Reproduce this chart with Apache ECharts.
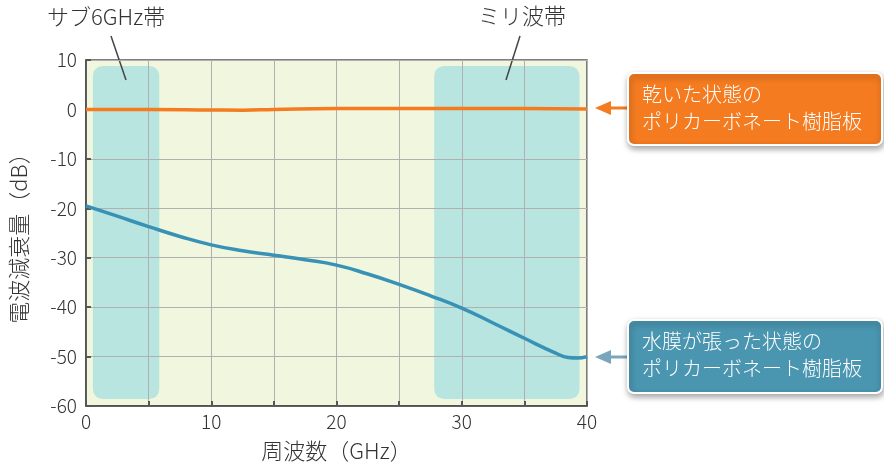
<!DOCTYPE html>
<html><head><meta charset="utf-8">
<script src="https://cdn.jsdelivr.net/npm/echarts@6/dist/echarts.min.js"></script>
<style>html,body{margin:0;padding:0;background:#fff}#c{width:884px;height:468px}</style>
</head><body><div id="c"></div>
<script>
var freqs = [0, 2.5, 5, 7.5, 10, 12.5, 15, 17.5, 20, 22.5, 25, 27.5, 30, 32.5, 35, 37.5, 38.5, 39.2, 40];
var wetValues = [-19.5, -21.6, -23.7, -25.7, -27.4, -28.6, -29.5, -30.4, -31.5, -33.3, -35.4, -37.7, -40.2, -43.2, -46.3, -49.3, -50.2, -50.3, -50.0];
var dryFreqs = [0, 5, 10, 12.5, 15, 20, 25, 30, 35, 40];
var dryValues = [0, 0, -0.1, -0.15, 0, 0.2, 0.2, 0.2, 0.2, 0.1];
var bands = [[0.55, 5.85, 8.8, -58.6], [27.8, 39.4, 8.8, -58.6]];
var bandNames = ['サブ6GHz帯', 'ミリ波帯'];
var xTicks = [0, 10, 20, 30, 40];

var FONT = '"Noto Sans CJK JP", "Noto Sans", sans-serif';
var chart = echarts.init(document.getElementById('c'));
var wet = freqs.map(function (f, i) { return [f, wetValues[i]]; });
var dry = dryFreqs.map(function (f, i) { return [f, dryValues[i]]; });

chart.setOption({
  animation: false,
  textStyle: { fontFamily: FONT },
  grid: { left: 86, right: 297, top: 60, bottom: 62, show: true, backgroundColor: 'transparent', borderColor: '#555', borderWidth: 1.5 },
  xAxis: {
    type: 'value', min: 0, max: 40, interval: 5,
    name: '周波数（GHz）', nameLocation: 'middle', nameGap: 34,
    nameTextStyle: { fontSize: 22, color: '#333', fontFamily: FONT, fontWeight: 300 },
    axisLine: { onZero: false, lineStyle: { color: '#444', width: 1.5 } },
    axisTick: { inside: true, length: 5, lineStyle: { color: '#555', width: 2 } },
    axisLabel: { fontSize: 19, color: '#333', margin: 6, fontFamily: FONT, fontWeight: 300,
      formatter: function (v) { return xTicks.indexOf(v) >= 0 ? String(v) : ''; } },
    splitLine: { show: true, lineStyle: { color: '#b0b0b0', width: 1 } }
  },
  yAxis: {
    type: 'value', min: -60, max: 10, interval: 10,
    name: '電波減衰量（dB）', nameLocation: 'middle', nameGap: 56, nameRotate: 90,
    nameTextStyle: { fontSize: 22, color: '#333', fontFamily: FONT, fontWeight: 300 },
    axisLine: { show: true, onZero: false, lineStyle: { color: '#444', width: 1.5 } },
    axisTick: { show: true, inside: true, length: 5, lineStyle: { color: '#555', width: 2 } },
    axisLabel: { fontSize: 19, color: '#333', margin: 9, fontFamily: FONT, fontWeight: 300 },
    splitLine: { show: true, lineStyle: { color: '#b0b0b0', width: 1 } }
  },
  series: [
    {
      type: 'custom', data: [[0, 40, 10, -60]], z: -2, silent: true, clip: false,
      renderItem: function (params, api) {
        var p0 = api.coord([api.value(0), api.value(2)]);
        var p1 = api.coord([api.value(1), api.value(3)]);
        return { type: 'rect', shape: { x: p0[0], y: p0[1], width: p1[0] - p0[0], height: p1[1] - p0[1] },
          style: { fill: '#f1f6df' } };
      }
    },
    {
      type: 'custom', data: bands, z: -1, silent: true,
      renderItem: function (params, api) {
        var p0 = api.coord([api.value(0), api.value(2)]);
        var p1 = api.coord([api.value(1), api.value(3)]);
        return { type: 'rect', shape: { x: p0[0], y: p0[1], width: p1[0] - p0[0], height: p1[1] - p0[1], r: 10 },
          style: { fill: '#b8e5df' } };
      }
    },
    { type: 'line', data: dry, smooth: true, showSymbol: false, z: 5, lineStyle: { color: '#f47b20', width: 3.5 } },
    { type: 'line', data: wet, smooth: true, showSymbol: false, z: 5, lineStyle: { color: '#3892b5', width: 3.5 } }
  ],
  graphic: [
    { type: 'text', left: 47, top: 6, style: { text: bandNames[0], font: '300 22px ' + FONT, fill: '#333' } },
    { type: 'line', shape: { x1: 111, y1: 36, x2: 126, y2: 80 }, style: { stroke: '#444', lineWidth: 1.5 } },
    { type: 'text', left: 478, top: 5, style: { text: bandNames[1], font: '300 22px ' + FONT, fill: '#333' } },
    { type: 'line', shape: { x1: 520, y1: 36, x2: 506, y2: 80 }, style: { stroke: '#444', lineWidth: 1.5 } },

    { type: 'line', shape: { x1: 608, y1: 108, x2: 630, y2: 108 }, style: { stroke: '#f47b20', lineWidth: 3 } },
    { type: 'polygon', shape: { points: [[595, 108], [611, 101], [611, 115]] }, style: { fill: '#f47b20' } },
    { type: 'rect', shape: { x: 628, y: 73, width: 254, height: 72, r: 6 },
      style: { fill: '#f47b20', stroke: '#fff', lineWidth: 2, shadowBlur: 6, shadowOffsetX: 1, shadowOffsetY: 3, shadowColor: 'rgba(0,0,0,0.35)' } },
    { type: 'text', left: 642, top: 81, style: { text: '乾いた状態の\nポリカーボネート樹脂板', font: '300 20px ' + FONT, fill: '#fff', lineHeight: 27 } },

    { type: 'line', shape: { x1: 608, y1: 357, x2: 630, y2: 357 }, style: { stroke: '#7aa6bb', lineWidth: 3 } },
    { type: 'polygon', shape: { points: [[595, 357], [611, 350], [611, 364]] }, style: { fill: '#7aa6bb' } },
    { type: 'rect', shape: { x: 628, y: 320, width: 254, height: 73, r: 6 },
      style: { fill: '#4a95b0', stroke: '#fff', lineWidth: 2, shadowBlur: 6, shadowOffsetX: 1, shadowOffsetY: 3, shadowColor: 'rgba(0,0,0,0.35)' } },
    { type: 'text', left: 642, top: 328, style: { text: '水膜が張った状態の\nポリカーボネート樹脂板', font: '300 20px ' + FONT, fill: '#fff', lineHeight: 27 } }
  ]
});
</script></body></html>
